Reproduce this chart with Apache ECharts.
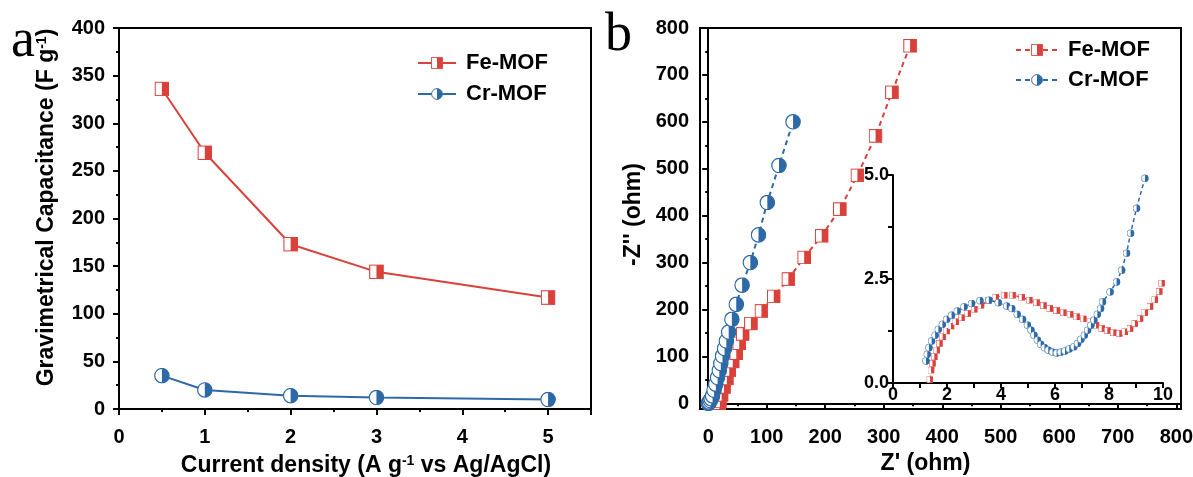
<!DOCTYPE html>
<html>
<head>
<meta charset="utf-8">
<script src="https://cdn.jsdelivr.net/npm/echarts@6/dist/echarts.min.js"></script>
<style>html,body{margin:0;padding:0;background:#fff}#c{width:1193px;height:477px}</style>
</head>
<body>
<div id="c"></div>
<script>
// ---------- data ----------
const currentDensity = [0.5, 1, 2, 3, 5];
const feCapacitance = [336, 269, 173, 144, 117];
const crCapacitance = [35, 20, 14, 12, 10];

const feMainZre = [19, 20, 23, 27, 32, 36, 42, 48, 53, 59, 73, 91, 112, 137, 164, 194, 225, 255, 286, 314, 345];
const feMainZim = [0, 4, 18, 35, 53, 71, 89, 107, 128, 148, 170, 197, 228, 265, 311, 357, 414, 486, 570, 663, 762];
const crMainZre = [0, 1, 2, 3.5, 5, 7.5, 10, 13, 16, 19, 21.6, 24.5, 28, 31, 35, 40.5, 48, 58, 72, 86, 101, 121, 145];
const crMainZim = [0, 1, 3, 6, 10, 16, 28, 41, 55, 70, 85, 101, 117, 133, 152, 179, 211, 252, 300, 359, 428, 507, 600];

const feInsetZre = [1.37,1.41,1.46,1.53,1.62,1.72,1.84,1.99,2.15,2.33,2.54,2.77,3.01,3.26,3.53,3.81,4.12,4.43,4.77,5.05,5.32,5.57,5.81,6.06,6.31,6.56,6.80,7.05,7.30,7.52,7.73,7.94,8.16,8.38,8.59,8.78,8.96,9.15,9.33,9.52,9.70,9.86,9.95];
const feInsetZim = [0.08,0.31,0.47,0.63,0.79,0.95,1.11,1.25,1.37,1.47,1.57,1.67,1.77,1.87,1.98,2.06,2.11,2.11,2.06,1.99,1.93,1.86,1.79,1.74,1.69,1.65,1.59,1.54,1.47,1.39,1.31,1.26,1.21,1.19,1.23,1.31,1.43,1.55,1.69,1.84,2.00,2.20,2.40];
const crInsetZre = [1.22,1.27,1.33,1.43,1.56,1.68,1.83,1.99,2.17,2.38,2.63,2.91,3.22,3.55,3.90,4.21,4.40,4.60,4.80,4.98,5.11,5.22,5.35,5.47,5.61,5.75,5.91,6.06,6.21,6.37,6.53,6.70,6.84,6.96,7.09,7.21,7.33,7.44,7.57,7.69,7.76,8.04,8.28,8.47,8.65,8.80,9.02,9.33];
const crInsetZim = [0.53,0.69,0.85,1.01,1.15,1.29,1.41,1.53,1.63,1.73,1.83,1.91,1.98,1.99,1.93,1.85,1.79,1.65,1.53,1.39,1.27,1.15,1.03,0.93,0.85,0.79,0.74,0.72,0.74,0.77,0.82,0.87,0.95,1.05,1.15,1.27,1.39,1.51,1.65,1.79,1.95,2.19,2.43,2.71,3.12,3.60,4.20,4.92];

const mainXMajor = [0, 100, 200, 300, 400, 500, 600, 700, 800];
const mainXMinor = [50, 150, 250, 350, 450, 550, 650, 750];
const mainYMajor = [0, 100, 200, 300, 400, 500, 600, 700, 800];
const mainYMinor = [50, 150, 250, 350, 450, 550, 650, 750];

// ---------- style ----------
const RED = '#d9413a';
const BLUE = '#2e69a7';
const FONT = "'Liberation Sans', Arial, sans-serif";
const SERIF = "'Liberation Serif', 'Times New Roman', serif";

function zip(a, b) { return a.map((v, i) => [v, b[i]]); }
function sqSym(c) {
  const s = '<svg xmlns="http://www.w3.org/2000/svg" width="40" height="40" viewBox="0 0 40 40">' +
    '<rect x="2" y="2" width="36" height="36" fill="#fff" stroke="' + c + '" stroke-width="3"/>' +
    '<rect x="20" y="2" width="18" height="36" fill="' + c + '"/></svg>';
  return 'image://data:image/svg+xml;charset=utf-8,' + encodeURIComponent(s);
}
function ciSym(c) {
  const s = '<svg xmlns="http://www.w3.org/2000/svg" width="40" height="40" viewBox="0 0 40 40">' +
    '<circle cx="20" cy="20" r="18" fill="#fff" stroke="' + c + '" stroke-width="3"/>' +
    '<path d="M20 2 A18 18 0 0 1 20 38 Z" fill="' + c + '"/></svg>';
  return 'image://data:image/svg+xml;charset=utf-8,' + encodeURIComponent(s);
}

const labelStyle = { color: '#000', fontFamily: FONT, fontWeight: 'bold', fontSize: 20 };
const nameStyle = {
  color: '#000', fontFamily: FONT, fontWeight: 'bold', fontSize: 23,
  rich: { sup: { fontFamily: FONT, fontWeight: 'bold', fontSize: 14, verticalAlign: 'top', color: '#000' } }
};
const axLine = { show: true, lineStyle: { color: '#000', width: 2 } };
const legendText = { color: '#000', fontFamily: FONT, fontWeight: 'bold', fontSize: 22, lineHeight: 22, padding: [0, 0, 0, 5] };

const chart = echarts.init(document.getElementById('c'), null, { renderer: 'canvas' });
chart.setOption({
  animation: false,
  backgroundColor: '#fff',
  grid: [
    { left: 119, top: 28, width: 472, height: 381, show: true, borderColor: '#000', borderWidth: 2, backgroundColor: 'transparent', outerBoundsMode: 'none', containLabel: false },
    { left: 700, top: 28, width: 481, height: 381, show: true, borderColor: '#000', borderWidth: 2, backgroundColor: 'transparent', outerBoundsMode: 'none', containLabel: false },
    { left: 893, top: 175, width: 270, height: 208, outerBoundsMode: 'none', containLabel: false }
  ],
  xAxis: [
    { gridIndex: 0, type: 'value', min: 0, max: 5.5, interval: 1,
      axisLine: axLine, axisTick: { show: true, length: 6, lineStyle: { width: 2, color: '#000' } },
      minorTick: { show: true, splitNumber: 2, length: 3, lineStyle: { width: 2, color: '#000' } },
      splitLine: { show: false },
      axisLabel: Object.assign({ margin: 18, showMaxLabel: false }, labelStyle),
      name: 'Current density (A g{sup|-1} vs Ag/AgCl)', nameLocation: 'middle', nameGap: 45,
      nameTextStyle: Object.assign({ padding: [0, 0, 0, 22] }, nameStyle) },
    { gridIndex: 1, type: 'value', min: -14, max: 808, position: 'bottom',
      axisLine: axLine,
      axisTick: { show: true, length: 6, customValues: mainXMajor, lineStyle: { width: 2, color: '#000' } },
      splitLine: { show: false },
      axisLabel: Object.assign({ margin: 18, customValues: mainXMajor }, labelStyle),
      name: "Z' (ohm)", nameLocation: 'middle', nameGap: 43, nameTextStyle: Object.assign({ padding: [0, 30, 0, 0] }, nameStyle) },
    { gridIndex: 1, type: 'value', min: -14, max: 808, position: 'bottom',
      axisLine: { show: false },
      axisTick: { show: true, length: 3, customValues: mainXMinor, lineStyle: { width: 2, color: '#000' } },
      splitLine: { show: false }, axisLabel: { show: false } },
    { gridIndex: 2, type: 'value', min: 0, max: 10, interval: 2,
      axisLine: axLine, axisTick: { show: true, length: 5, lineStyle: { width: 2, color: '#000' } },
      minorTick: { show: true, splitNumber: 2, length: 5, lineStyle: { width: 2, color: '#000' } },
      splitLine: { show: false },
      axisLabel: Object.assign({}, labelStyle, { fontSize: 18, margin: 3 }) }
  ],
  yAxis: [
    { gridIndex: 0, type: 'value', min: 0, max: 400, interval: 50,
      axisLine: axLine, axisTick: { show: true, length: 6, lineStyle: { width: 2, color: '#000' } },
      minorTick: { show: true, splitNumber: 2, length: 3, lineStyle: { width: 2, color: '#000' } },
      splitLine: { show: false },
      axisLabel: Object.assign({ margin: 14 }, labelStyle),
      name: 'Gravimetrical Capacitance (F g{sup|-1})', nameLocation: 'middle', nameGap: 61, nameRotate: 90,
      nameTextStyle: Object.assign({ padding: [0, 0, 0, 22] }, nameStyle) },
    { gridIndex: 1, type: 'value', min: -12, max: 800, position: 'left',
      axisLine: axLine,
      axisTick: { show: true, length: 6, customValues: mainYMajor, lineStyle: { width: 2, color: '#000' } },
      splitLine: { show: false },
      axisLabel: Object.assign({ margin: 11, customValues: mainYMajor }, labelStyle),
      name: "-Z'' (ohm)", nameLocation: 'middle', nameGap: 55, nameRotate: 90,
      nameTextStyle: Object.assign({ padding: [0, 0, 0, 8] }, nameStyle) },
    { gridIndex: 1, type: 'value', min: -12, max: 800, position: 'left',
      axisLine: { show: false },
      axisTick: { show: true, length: 3, customValues: mainYMinor, lineStyle: { width: 2, color: '#000' } },
      splitLine: { show: false }, axisLabel: { show: false } },
    { gridIndex: 2, type: 'value', min: 0, max: 5, interval: 2.5,
      axisLine: axLine, axisTick: { show: true, length: 5, lineStyle: { width: 2, color: '#000' } },
      minorTick: { show: true, splitNumber: 2, length: 5, lineStyle: { width: 2, color: '#000' } },
      splitLine: { show: false },
      axisLabel: Object.assign({}, labelStyle, { fontSize: 18, margin: 4, formatter: v => v.toFixed(1) }) }
  ],
  legend: [
    { data: ['Fe-MOF', 'Cr-MOF'], orient: 'vertical', left: 417, top: 52, padding: 0,
      itemWidth: 38, itemHeight: 15, itemGap: 9, textStyle: legendText },
    { data: ['Fe-MOF EIS', 'Cr-MOF EIS'], orient: 'vertical', left: 1015, top: 39, padding: 0,
      itemWidth: 42, itemHeight: 15, itemGap: 8,
      formatter: n => n.replace(' EIS', ''), textStyle: legendText }
  ],
  series: [
    { name: 'Fe-MOF', type: 'line', xAxisIndex: 0, yAxisIndex: 0, data: zip(currentDensity, feCapacitance),
      symbol: sqSym(RED), symbolSize: 15, itemStyle: { color: RED }, lineStyle: { color: RED, width: 2 }, z: 3 },
    { name: 'Cr-MOF', type: 'line', xAxisIndex: 0, yAxisIndex: 0, data: zip(currentDensity, crCapacitance),
      symbol: ciSym(BLUE), symbolSize: 16, itemStyle: { color: BLUE }, lineStyle: { color: BLUE, width: 2 }, z: 3 },
    { name: 'Fe-MOF EIS', type: 'line', xAxisIndex: 1, yAxisIndex: 1, data: zip(feMainZre, feMainZim),
      symbol: sqSym(RED), symbolSize: 14, itemStyle: { color: RED }, lineStyle: { color: RED, width: 2, type: [5, 4] }, z: 3 },
    { name: 'Cr-MOF EIS', type: 'line', xAxisIndex: 1, yAxisIndex: 1, data: zip(crMainZre, crMainZim),
      symbol: ciSym(BLUE), symbolSize: 16, itemStyle: { color: BLUE }, lineStyle: { color: BLUE, width: 2, type: [5, 4] }, z: 3 },
    { name: 'Fe-MOF inset', type: 'line', xAxisIndex: 3, yAxisIndex: 3, data: zip(feInsetZre, feInsetZim),
      symbol: sqSym(RED), symbolSize: 7, itemStyle: { color: RED }, lineStyle: { color: RED, width: 1.5, type: [4, 3] }, z: 3 },
    { name: 'Cr-MOF inset', type: 'line', xAxisIndex: 3, yAxisIndex: 3, data: zip(crInsetZre, crInsetZim),
      symbol: ciSym(BLUE), symbolSize: 8, itemStyle: { color: BLUE }, lineStyle: { color: BLUE, width: 1.5, type: [4, 3] }, z: 3 }
  ],
  graphic: [
    { type: 'text', left: 11, top: 15, style: { text: 'a', font: '54px ' + SERIF, fill: '#000' } },
    { type: 'text', left: 605, top: 9, style: { text: 'b', font: '54px ' + SERIF, fill: '#000' } }
  ]
});
</script>
</body>
</html>
